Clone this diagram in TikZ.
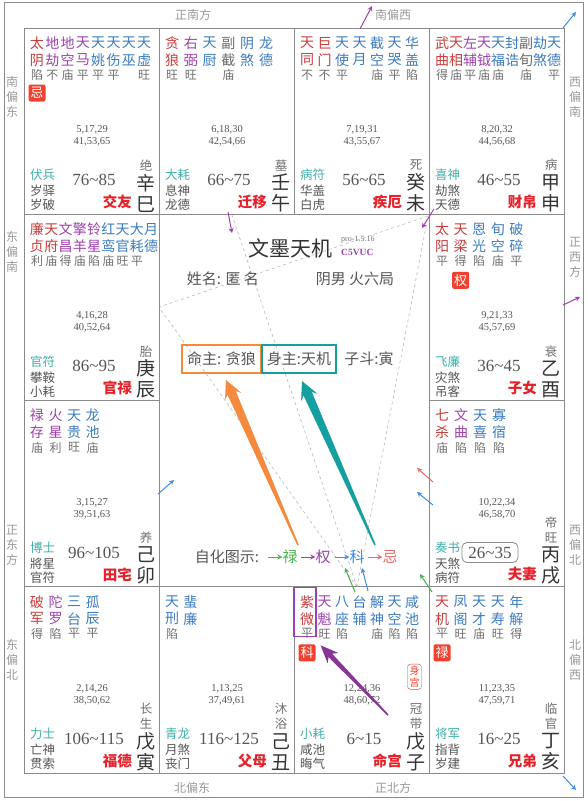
\documentclass[tikz,border=0pt]{standalone}
\usepackage{fontspec}
\setmainfont{Noto Sans CJK SC}
\newfontfamily\xiti{Liberation Serif}
\usetikzlibrary{calc,arrows.meta}
\definecolor{kgray}{HTML}{8A8A8A}
\definecolor{fgray}{HTML}{9A9A9A}
\definecolor{lgray}{HTML}{707070}
\definecolor{dgray}{HTML}{555555}
\definecolor{tgray}{HTML}{333333}
\definecolor{zred}{HTML}{C83C3C}
\definecolor{zpur}{HTML}{A040B0}
\definecolor{zblue}{HTML}{3C7CC0}
\definecolor{zgray}{HTML}{6A6A6A}
\definecolor{zteal}{HTML}{40B0A8}
\definecolor{gongred}{HTML}{E62129}
\definecolor{huared}{HTML}{F0412F}
\definecolor{jorange}{HTML}{F58A3C}
\definecolor{jteal}{HTML}{14A0A0}
\definecolor{hgreen}{HTML}{4CAF50}
\definecolor{hblue}{HTML}{3A8EE6}
\definecolor{hred}{HTML}{EA6A6A}
\newcommand{\zh}[2]{\fontsize{#1}{#2}\selectfont}
\tikzset{
  kuang/.style={draw=kgray, line width=0.8pt},
  fangwei/.style={text=fgray, font=\zh{12}{15}, align=center, inner sep=0pt},
  xing/.style={font=\zh{14}{14}, inner sep=0pt},
  liang/.style={font=\zh{12}{12}, text=lgray, inner sep=0pt},
  hua/.style={fill=huared, text=white, rounded corners=2pt, font=\zh{13}{13}, minimum size=17pt, inner sep=0pt},
  boshi/.style={anchor=west, text=zteal, font=\zh{12.5}{12.5}, inner sep=0pt},
  shensha/.style={anchor=west, text=dgray, font=\zh{12.5}{12.5}, inner sep=0pt},
  daxian/.style={font=\xiti\zh{17}{17}, text=dgray, inner sep=1pt},
  gongming/.style={anchor=east, text=gongred, font=\bfseries\zh{14.5}{14.5}, inner sep=0pt},
  changsheng/.style={anchor=south, align=center, text=lgray, font=\zh{12.5}{15}, inner sep=0pt},
  ganzhi/.style={align=center, text=tgray, font=\zh{19}{21}, inner sep=0pt},
  nianling/.style={font=\xiti\zh{10.5}{10.5}, text=dgray, inner sep=0pt},
  zhong/.style={font=\zh{15}{15}, text=dgray, inner sep=0pt},
  zhubox/.style={draw=#1, line width=1.2pt, minimum height=28pt, inner sep=3pt},
  sanfang/.style={draw=gray!55, dashed, line width=0.6pt},
  xiaojian/.style={-{Stealth[length=5pt,width=5pt]}, line width=1pt},
}
% star columns of a palace
\newcommand{\xingyao}[2]{%
  \foreach \sa/\sb/\sc/\sd [count=\i from 0] in {#2}{
    \node[xing,text=\sc] at (13+\i*#1,15) {\sa};
    \node[xing,text=\sc] at (13+\i*#1,32) {\sb};
    \node[liang] at (13+\i*#1,47) {\sd};}}
% lower part of a palace
\newcommand{\gongwei}[9]{%
  \node[boshi] at (6,147) {#1};
  \node[shensha] at (6,163) {#2};
  \node[shensha] at (6,177) {#3};
  \node[daxian] (dx) at (70,152) {#4};
  \node[gongming] at (108,174) {#5};
  \node[changsheng] at (122,143) {#6};
  \node[ganzhi] at (122,165) {#7};
  \node[nianling] at (68,102) {#8};
  \node[nianling] at (68,114) {#9};}
% tapered arrow: tail, tip, colour, neck half width, head half width
\newcommand{\cujian}[5]{%
  \coordinate (jb) at ($(#2)!18pt!(#1)$);
  \coordinate (jn) at ($(#2)!14pt!(#1)$);
  \fill[#3] ($(#1)!0.8pt!90:(#2)$) -- ($(jn)!#4!90:(#2)$) -- ($(jb)!#5!90:(#2)$) -- (#2)
    -- ($(jb)!#5!-90:(#2)$) -- ($(jn)!#4!-90:(#2)$) -- ($(#1)!0.8pt!-90:(#2)$) -- cycle;}
\begin{document}
\begin{tikzpicture}[x=1pt,y=-1pt]
\useasboundingbox (0,0) rectangle (587,801);
\fill[white] (0,0) rectangle (587,801);
\draw[kuang] (4,2) rectangle (583,797);

% directions
\node[fangwei] (zhengnan) at (193,15) {正南方};
\node[fangwei] (nanxi) at (393,15) {南偏西};
\node[fangwei] (beidong) at (192,788) {北偏东};
\node[fangwei] (zhengbei) at (393,788) {正北方};
\node[fangwei] (nandong) at (12,97) {南\\偏\\东};
\node[fangwei] (dongnan) at (12,252) {东\\偏\\南};
\node[fangwei] (zhengdong) at (12,545) {正\\东\\方};
\node[fangwei] (dongbei) at (12,660) {东\\偏\\北};
\node[fangwei] (xinan) at (575,97) {西\\偏\\南};
\node[fangwei] (zhengxi) at (575,257) {正\\西\\方};
\node[fangwei] (xibei) at (575,545) {西\\偏\\北};
\node[fangwei] (beixi) at (575,660) {北\\偏\\西};

% san fang si zheng
\coordinate (sf-ming) at (357,587);
\coordinate (sf-chen) at (159,307);
\coordinate (sf-shen) at (428,216);
\coordinate (sf-wu) at (232,215);
\draw[sanfang] (sf-ming) -- (sf-chen) -- (sf-shen) -- cycle;
\draw[sanfang] (sf-ming) -- (sf-wu);

% 巳
\begin{scope}[shift={(24,28)}]
  \draw[kuang] (0,0) rectangle (135,186.25);
  \xingyao{15.3}{太/阴/zred/陷, 地/劫/zpur/不, 地/空/zpur/庙, 天/马/zpur/平, 天/姚/zblue/平, 天/伤/zblue/平, 天/巫/zblue/{}, 天/虚/zblue/旺}
  \node[hua] at (13,65) {忌};
  \gongwei{伏兵}{岁驿}{岁破}{76\textasciitilde85}{交友}{绝}{辛\\巳}{5,17,29}{41,53,65}
\end{scope}
% 午
\begin{scope}[shift={(159,28)}]
  \draw[kuang] (0,0) rectangle (135,186.25);
  \xingyao{18.8}{贪/狼/zred/旺, 右/弼/zpur/旺, 天/厨/zblue/{}, 副/截/zgray/庙, 阴/煞/zblue/{}, 龙/德/zblue/{}}
  \gongwei{大耗}{息神}{龙德}{66\textasciitilde75}{迁移}{墓}{壬\\午}{6,18,30}{42,54,66}
\end{scope}
% 未
\begin{scope}[shift={(294,28)}]
  \draw[kuang] (0,0) rectangle (135,186.25);
  \xingyao{17.5}{天/同/zred/不, 巨/门/zred/不, 天/使/zblue/平, 天/月/zblue/{}, 截/空/zblue/庙, 天/哭/zblue/平, 华/盖/zblue/陷}
  \gongwei{病符}{华盖}{白虎}{56\textasciitilde65}{疾厄}{死}{癸\\未}{7,19,31}{43,55,67}
\end{scope}
% 申
\begin{scope}[shift={(429,28)}]
  \draw[kuang] (0,0) rectangle (135,186.25);
  \xingyao{14}{武/曲/zred/得, 天/相/zred/庙, 左/辅/zpur/平, 天/钺/zpur/庙, 天/福/zblue/庙, 封/诰/zblue/{}, 副/旬/zgray/庙, 劫/煞/zblue/{}, 天/德/zblue/平}
  \gongwei{喜神}{劫煞}{天德}{46\textasciitilde55}{财帛}{病}{甲\\申}{8,20,32}{44,56,68}
\end{scope}
% 辰
\begin{scope}[shift={(24,214.25)}]
  \draw[kuang] (0,0) rectangle (135,186.25);
  \xingyao{14.25}{廉/贞/zred/利, 天/府/zred/庙, 文/昌/zpur/得, 擎/羊/zpur/庙, 铃/星/zpur/陷, 红/鸾/zblue/庙, 天/官/zblue/旺, 大/耗/zblue/平, 月/德/zblue/{}}
  \gongwei{官符}{攀鞍}{小耗}{86\textasciitilde95}{官禄}{胎}{庚\\辰}{4,16,28}{40,52,64}
\end{scope}
% 酉
\begin{scope}[shift={(429,214.25)}]
  \draw[kuang] (0,0) rectangle (135,186.25);
  \xingyao{18.6}{太/阳/zred/平, 天/梁/zred/得, 恩/光/zblue/陷, 旬/空/zblue/庙, 破/碎/zblue/平}
  \node[hua] at (31.6,66) {权};
  \gongwei{飞廉}{灾煞}{吊客}{36\textasciitilde45}{子女}{衰}{乙\\酉}{9,21,33}{45,57,69}
\end{scope}
% 卯
\begin{scope}[shift={(24,400.5)}]
  \draw[kuang] (0,0) rectangle (135,186.25);
  \xingyao{18.5}{禄/存/zpur/庙, 火/星/zpur/利, 天/贵/zblue/旺, 龙/池/zblue/庙}
  \gongwei{博士}{將星}{官符}{96\textasciitilde105}{田宅}{养}{己\\卯}{3,15,27}{39,51,63}
\end{scope}
% 戌
\begin{scope}[shift={(429,400.5)}]
  \draw[kuang] (0,0) rectangle (135,186.25);
  \xingyao{19}{七/杀/zred/庙, 文/曲/zpur/陷, 天/喜/zblue/陷, 寡/宿/zblue/陷}
  \gongwei{奏书}{天煞}{病符}{}{夫妻}{帝\\旺}{丙\\戌}{10,22,34}{46,58,70}
  \node[daxian, draw=kgray, line width=0.8pt, rounded corners=5pt, minimum width=56pt, minimum height=20pt] (dxbox) at (61,152) {26\textasciitilde35};
\end{scope}
% 寅
\begin{scope}[shift={(24,586.75)}]
  \draw[kuang] (0,0) rectangle (135,186.25);
  \xingyao{18.5}{破/军/zred/得, 陀/罗/zpur/陷, 三/台/zblue/平, 孤/辰/zblue/平}
  \gongwei{力士}{亡神}{贯索}{106\textasciitilde115}{福德}{长\\生}{戊\\寅}{2,14,26}{38,50,62}
\end{scope}
% 丑
\begin{scope}[shift={(159,586.75)}]
  \draw[kuang] (0,0) rectangle (135,186.25);
  \xingyao{18.3}{天/刑/zblue/陷, 蜚/廉/zblue/{}}
  \gongwei{青龙}{月煞}{丧门}{116\textasciitilde125}{父母}{沐\\浴}{己\\丑}{1,13,25}{37,49,61}
\end{scope}
% 子
\begin{scope}[shift={(294,586.75)}]
  \draw[kuang] (0,0) rectangle (135,186.25);
  \xingyao{17.5}{紫/微/zred/平, 天/魁/zpur/旺, 八/座/zblue/陷, 台/辅/zblue/{}, 解/神/zblue/庙, 天/空/zblue/陷, 咸/池/zblue/陷}
  \node[draw=zpur, line width=1.1pt, minimum width=22pt, minimum height=49pt, inner sep=0pt] (ziwei) at (11,25.5) {};
  \node[hua] at (13,66) {科};
  \node[draw=huared, rounded corners=3pt, text=huared, font=\zh{10}{12}, align=center, inner sep=2pt] (shengong) at (120.5,90) {身\\宫};
  \gongwei{小耗}{咸池}{晦气}{6\textasciitilde15}{命宫}{冠\\带}{戊\\子}{12,24,36}{48,60,72}
\end{scope}
% 亥
\begin{scope}[shift={(429,586.75)}]
  \draw[kuang] (0,0) rectangle (135,186.25);
  \xingyao{18.6}{天/机/zred/平, 凤/阁/zblue/旺, 天/才/zblue/庙, 天/寿/zblue/旺, 年/解/zblue/得}
  \node[hua] at (13,66) {禄};
  \gongwei{将军}{指背}{岁建}{16\textasciitilde25}{兄弟}{临\\官}{丁\\亥}{11,23,35}{47,59,71}
\end{scope}

% centre
\node[font=\zh{21}{21}, text=tgray, inner sep=0pt] (title) at (290,248) {文墨天机};
\node[anchor=west, font=\xiti\zh{8}{8}, text=lgray, inner sep=0pt] (ver) at (341,240) {pro-1.5.16};
\node[anchor=west, font=\xiti\bfseries\zh{9.5}{9.5}, text=zpur, inner sep=0pt] (code) at (341,252) {C5VUC};
\node[zhong] (xingming) at (223,279) {姓名: 匿 名};
\node[zhong] (wuju) at (355,279) {阴男 火六局};
\node[zhong, zhubox=jorange, minimum width=79pt] (mingzhu) at (221.5,359) {命主: 贪狼};
\node[zhong, zhubox=jteal, minimum width=74pt] (shenzhu) at (299,359) {身主:天机};
\node[zhong] (zidou) at (369,359) {子斗:寅};

% zihua legend
\node[zhong] (zihua) at (227,557) {自化图示:};
\node[zhong, text=hgreen] (lu) at (290,557) {禄};
\node[zhong, text=zpur] (quan) at (323,557) {权};
\node[zhong, text=hblue] (ke) at (357,557) {科};
\node[zhong, text=hred] (ji) at (390,557) {忌};
\draw[xiaojian, hgreen, line width=0.8pt] ([xshift=-14pt]lu.west) -- (lu.west);
\draw[xiaojian, zpur, line width=0.8pt] ([xshift=-14pt]quan.west) -- (quan.west);
\draw[xiaojian, hblue, line width=0.8pt] ([xshift=-14pt]ke.west) -- (ke.west);
\draw[xiaojian, hred, line width=0.8pt] ([xshift=-14pt]ji.west) -- (ji.west);

% big arrows
\coordinate (lu-t) at (298,545);
\coordinate (lu-h) at (226,380);
\coordinate (ke-t) at (375,545);
\coordinate (ke-h) at (302,381);
\coordinate (zw-t) at (388,715);
\coordinate (zw-h) at ($(ziwei.south east)+(4,8)$);
\cujian{lu-t}{lu-h}{jorange}{4.5pt}{9pt}
\cujian{ke-t}{ke-h}{jteal}{4.5pt}{9pt}
\cujian{zw-t}{zw-h}{zpur!85!black}{2.5pt}{7.5pt}

% small arrows
\draw[xiaojian, zpur] (228,212) -- (232,233);
\draw[xiaojian, zpur] (434,209) -- (422,228);
\draw[xiaojian, zpur] (360,29) -- (372,6);
\draw[xiaojian, hblue] (563,28) -- (576,12);
\draw[xiaojian, zpur] (563,305) -- (580,297);
\draw[xiaojian, hblue] (563,776) -- (576,790);
\draw[xiaojian, hblue] (158,494) -- (174,480);
\draw[xiaojian, hred] (433,482) -- (417,468);
\draw[xiaojian, hblue] (433,505) -- (417,492);
\draw[xiaojian, hgreen] (355,592) -- (345,568);
\draw[xiaojian, hblue] (368,591) -- (362,568);
\draw[xiaojian, hgreen] (432,592) -- (420,574);
\end{tikzpicture}
\end{document}
